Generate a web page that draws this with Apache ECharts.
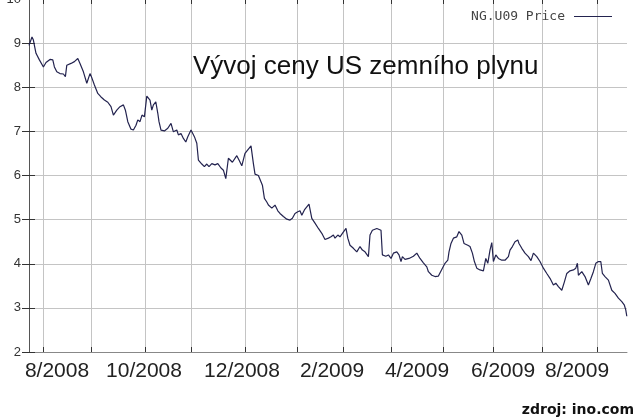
<!DOCTYPE html>
<html>
<head>
<meta charset="utf-8">
<script src="https://cdn.jsdelivr.net/npm/echarts@6/dist/echarts.min.js"></script>
<style>html,body{margin:0;padding:0;background:#fff}#c{width:640px;height:420px}</style>
</head>
<body>
<div id="c"></div>
<script>
const titleText = 'Vývoj ceny US zemního plynu';
const seriesName = 'NG.U09 Price';
const sourceText = 'zdroj: ino.com';
const yTicks = [2, 3, 4, 5, 6, 7, 8, 9, 10];
const xGridDays = [7, 31, 58, 81, 108, 134, 157, 181, 207, 232, 256.5, 284];
const xLabelDays = [14, 57.5, 106.5, 151.5, 194, 237, 274];
const xLabels = ['8/2008', '10/2008', '12/2008', '2/2009', '4/2009', '6/2009', '8/2009'];
const days = [
 0,1.5,2.2,2.7,3.5,5.2,7.2,8.5,10.5,11.9,12.7,13.9,15.5,17.2,18.2,18.9,19.9,21,22.7,24.4,
 25.5,27.2,28.9,30.5,31.2,32.7,34.4,36,37.7,39.4,41,42.2,43.9,45.5,47.2,48.2,49.4,51,52.2,53.5,
 54.4,55.5,56.5,57.7,58.9,60.5,61.4,62.2,63.4,64.4,65,66,67.7,69.4,71,72.2,73.9,74.7,76,77.2,
 78.4,79.4,81,82.7,83.9,84.7,86.4,87.7,88.9,90,91.4,93,94.4,96,97.2,98.4,99.7,101.7,103.9,105,
 106.4,108,109.7,111,112.2,113,114.7,115.5,116.7,117.7,118.9,119.7,121.4,123,124.4,125.5,127.2,128.9,130.5,131.7,
 133,134.4,135.5,136.4,137.7,138.9,140,141.4,143,144.7,146.4,148,149.7,151,152.2,153,154.4,155.5,156.7,157.7,
 158.5,159.4,160.5,162.2,163.9,165.5,166.7,168,169.7,170.5,171.7,173.9,176,176.7,178.4,179.7,181,182.2,183.9,185,
 186,186.7,188,190,192.2,193.9,195.5,197.2,198.9,199.7,201.4,203,204.7,205.5,206.7,208,209.4,210,211,212.2,
 213.9,215,216.4,217.5,219.4,220.5,221.7,222.7,223.9,225.5,227.2,228.4,229.4,230.5,231.4,232.2,233.4,234.7,236.4,238,
 239.7,240.5,241.7,243,244.4,245,246.4,248,249.7,251,252.2,253.9,255.5,257.2,258.9,260.5,262.2,263.4,264.7,266.4,
 267.7,268.9,270.5,272.2,273.4,274.2,274.7,276.4,278,279.7,281,282.2,283.4,284.7,285.9,286.7,288,289.7,291.4,293,
 294.7,296.4,297.7,298.4,298.9
];
const prices = [
 8.95,9.14,9.07,8.95,8.77,8.62,8.46,8.56,8.63,8.62,8.46,8.35,8.31,8.30,8.24,8.50,8.46,8.54,8.58,8.65,
 8.54,8.35,8.09,8.31,8.24,8.05,7.86,7.78,7.71,7.66,7.56,7.37,7.48,7.56,7.60,7.48,7.22,7.05,7.03,7.14,
 7.26,7.22,7.37,7.33,7.80,7.71,7.48,7.60,7.67,7.41,7.22,7.03,7.01,7.07,7.18,6.99,7.03,6.92,6.95,6.84,
 6.76,6.88,7.03,6.88,6.73,6.35,6.26,6.20,6.26,6.20,6.27,6.24,6.27,6.17,6.12,5.93,6.39,6.30,6.45,6.35,
 6.22,6.50,6.60,6.67,6.27,6.03,6.00,6.03,5.78,5.48,5.40,5.33,5.26,5.33,5.20,5.14,5.07,5.01,4.99,5.03,
 5.14,5.18,5.20,5.10,5.22,5.29,5.35,5.03,4.92,4.80,4.69,4.55,4.58,4.61,4.65,4.58,4.65,4.61,4.69,4.65,
 4.80,4.58,4.42,4.35,4.27,4.39,4.31,4.27,4.16,4.65,4.76,4.80,4.76,4.20,4.17,4.20,4.12,4.24,4.27,4.20,
 4.05,4.16,4.10,4.12,4.17,4.24,4.12,4.02,3.93,3.82,3.74,3.71,3.72,3.74,3.90,4.01,4.08,4.27,4.46,4.58,
 4.61,4.73,4.65,4.46,4.42,4.39,4.24,4.05,3.90,3.86,3.84,4.12,4.01,4.31,4.48,4.05,4.20,4.12,4.08,4.08,
 4.16,4.31,4.39,4.50,4.54,4.46,4.35,4.24,4.16,4.07,4.24,4.16,4.05,3.90,3.78,3.67,3.52,3.56,3.48,3.40,
 3.59,3.78,3.84,3.86,3.90,4.01,3.74,3.82,3.71,3.52,3.67,3.82,4.01,4.05,4.05,3.78,3.71,3.63,3.40,3.33,
 3.22,3.14,3.06,2.95,2.81
];

const chart = echarts.init(document.getElementById('c'), null, {renderer: 'canvas'});
const xMin = 0, xMax = 299;
chart.setOption({
  animation: false,
  backgroundColor: '#ffffff',
  title: {
    text: titleText,
    left: 188, top: 49,
    textStyle: {fontFamily: 'Liberation Sans', fontSize: 26, fontWeight: 'normal', color: '#111'}
  },
  legend: {
    right: 23, top: 5,
    align: 'right',
    itemWidth: 38, itemHeight: 1,
    data: [{name: seriesName, icon: 'rect'}],
    textStyle: {fontFamily: 'DejaVu Sans Mono', fontSize: 13, color: '#444', padding: [0, 4, 0, 0]}
  },
  graphic: [{
    type: 'text', right: 6, bottom: 3,
    style: {text: sourceText, font: 'bold 14px "DejaVu Sans"', fill: '#111'}
  }],
  grid: {left: 29, right: 13, top: -1, bottom: 68, containLabel: false, outerBoundsMode: 'none'},
  xAxis: [{
    type: 'value', min: xMin, max: xMax, position: 'bottom',
    axisLine: {show: true, lineStyle: {color: '#888', width: 1}},
    axisTick: {show: true, inside: true, length: 5, customValues: xGridDays, lineStyle: {color: '#333'}},
    splitLine: {show: true, lineStyle: {color: '#c4c4c4', width: 1}},
    axisLabel: {
      show: true, customValues: xLabelDays, margin: 9,
      fontFamily: 'Liberation Sans', fontSize: 21, color: '#222',
      formatter: v => xLabels[xLabelDays.indexOf(v)] || ''
    }
  }, {
    type: 'value', min: xMin, max: xMax, position: 'top',
    axisLine: {show: false},
    axisTick: {show: true, inside: true, length: 5, customValues: xGridDays, lineStyle: {color: '#333'}},
    splitLine: {show: false},
    axisLabel: {show: false}
  }],
  yAxis: [{
    type: 'value', min: 2, max: 10, interval: 1, position: 'left',
    axisLine: {show: true, lineStyle: {color: '#555', width: 1}},
    axisTick: {show: true, inside: true, length: 6, lineStyle: {color: '#333'}},
    splitLine: {show: true, lineStyle: {color: '#c4c4c4', width: 1}},
    axisLabel: {margin: 8, fontFamily: 'Liberation Sans', fontSize: 13, color: '#333',
      formatter: v => yTicks.includes(v) ? String(v) : ''}
  }, {
    type: 'value', min: 2, max: 10, interval: 1, position: 'right',
    axisLine: {show: false},
    axisTick: {show: true, inside: true, length: 7, lineStyle: {color: '#333'}},
    splitLine: {show: false},
    axisLabel: {show: false}
  }],
  series: [{
    name: seriesName,
    type: 'line',
    xAxisIndex: 0, yAxisIndex: 0,
    showSymbol: false,
    symbol: 'none',
    lineStyle: {color: '#23234f', width: 1.2},
    itemStyle: {color: '#23234f'},
    data: days.map((d, i) => [d, prices[i]])
  }]
});
</script>
</body>
</html>
